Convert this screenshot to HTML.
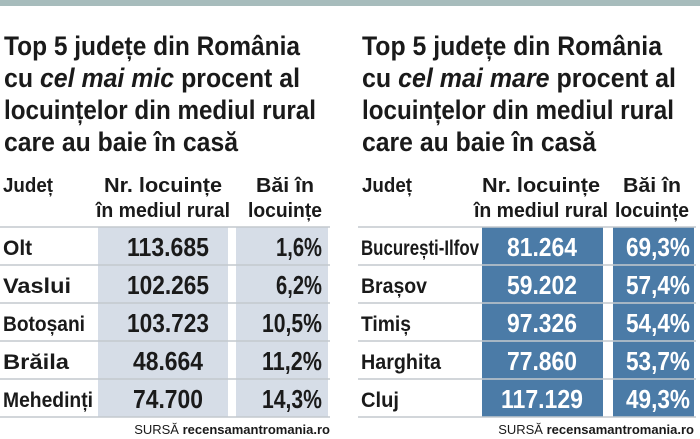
<!DOCTYPE html>
<html><head><meta charset="utf-8"><style>
html,body{margin:0;padding:0;background:#fff}
svg{display:block}
text{font-family:"Liberation Sans",sans-serif;font-weight:bold;fill:#1a1a1a}
</style></head><body>
<svg width="700" height="439" viewBox="0 0 700 439">
<rect x="0" y="0" width="700" height="6" fill="#a7bcbc"/>
<g font-size="27">
<text x="4" y="55" textLength="296" lengthAdjust="spacingAndGlyphs">Top 5 județe din România</text>
<text x="4" y="87" textLength="296" lengthAdjust="spacingAndGlyphs">cu <tspan font-style="italic">cel mai mic</tspan> procent al</text>
<text x="4" y="119" textLength="312" lengthAdjust="spacingAndGlyphs">locuințelor din mediul rural</text>
<text x="4" y="151" textLength="234" lengthAdjust="spacingAndGlyphs">care au baie în casă</text>
<text x="362" y="55" textLength="300" lengthAdjust="spacingAndGlyphs">Top 5 județe din România</text>
<text x="362" y="87" textLength="314" lengthAdjust="spacingAndGlyphs">cu <tspan font-style="italic">cel mai mare</tspan> procent al</text>
<text x="362" y="119" textLength="312" lengthAdjust="spacingAndGlyphs">locuințelor din mediul rural</text>
<text x="362" y="151" textLength="234" lengthAdjust="spacingAndGlyphs">care au baie în casă</text>
</g>
<g font-size="20">
<text x="3" y="192" textLength="50" lengthAdjust="spacingAndGlyphs">Județ</text>
<text x="163" y="192" text-anchor="middle" textLength="118" lengthAdjust="spacingAndGlyphs">Nr. locuințe</text>
<text x="163" y="217" text-anchor="middle" textLength="134" lengthAdjust="spacingAndGlyphs">în mediul rural</text>
<text x="285" y="192" text-anchor="middle" textLength="58" lengthAdjust="spacingAndGlyphs">Băi în</text>
<text x="285" y="217" text-anchor="middle" textLength="74" lengthAdjust="spacingAndGlyphs">locuințe</text>
<text x="362" y="192" textLength="50" lengthAdjust="spacingAndGlyphs">Județ</text>
<text x="541" y="192" text-anchor="middle" textLength="118" lengthAdjust="spacingAndGlyphs">Nr. locuințe</text>
<text x="541" y="217" text-anchor="middle" textLength="134" lengthAdjust="spacingAndGlyphs">în mediul rural</text>
<text x="652" y="192" text-anchor="middle" textLength="58" lengthAdjust="spacingAndGlyphs">Băi în</text>
<text x="652" y="217" text-anchor="middle" textLength="74" lengthAdjust="spacingAndGlyphs">locuințe</text>
</g>
<rect x="98" y="227" width="130" height="190" fill="#d6dde7"/>
<rect x="236" y="227" width="92" height="190" fill="#d6dde7"/>
<rect x="482" y="227" width="121" height="190" fill="#4b7ba7"/>
<rect x="613" y="227" width="81" height="190" fill="#4b7ba7"/>
<g stroke="#c4c9ce" stroke-width="1.5">
<line x1="0" y1="227" x2="330" y2="227"/><line x1="0" y1="265" x2="330" y2="265"/><line x1="0" y1="303" x2="330" y2="303"/><line x1="0" y1="341" x2="330" y2="341"/><line x1="0" y1="379" x2="330" y2="379"/><line x1="0" y1="417" x2="330" y2="417"/>
<line x1="358" y1="227" x2="696" y2="227"/><line x1="358" y1="265" x2="696" y2="265"/><line x1="358" y1="303" x2="696" y2="303"/><line x1="358" y1="341" x2="696" y2="341"/><line x1="358" y1="379" x2="696" y2="379"/><line x1="358" y1="417" x2="696" y2="417"/>
</g>
<g font-size="21">
<text x="3" y="255">Olt</text><text x="3" y="293" textLength="68" lengthAdjust="spacingAndGlyphs">Vaslui</text><text x="3" y="331" textLength="82" lengthAdjust="spacingAndGlyphs">Botoșani</text><text x="3" y="369" textLength="66" lengthAdjust="spacingAndGlyphs">Brăila</text><text x="3" y="407" textLength="90" lengthAdjust="spacingAndGlyphs">Mehedinți</text>
<text x="361" y="255" textLength="118" lengthAdjust="spacingAndGlyphs">București-Ilfov</text><text x="361" y="293" textLength="66" lengthAdjust="spacingAndGlyphs">Brașov</text><text x="361" y="331" textLength="50" lengthAdjust="spacingAndGlyphs">Timiș</text><text x="361" y="369" textLength="80" lengthAdjust="spacingAndGlyphs">Harghita</text><text x="361" y="407" textLength="38" lengthAdjust="spacingAndGlyphs">Cluj</text>
</g>
<g font-size="26">
<text x="168" y="256" text-anchor="middle" textLength="82" lengthAdjust="spacingAndGlyphs">113.685</text><text x="168" y="294" text-anchor="middle" textLength="82" lengthAdjust="spacingAndGlyphs">102.265</text><text x="168" y="332" text-anchor="middle" textLength="82" lengthAdjust="spacingAndGlyphs">103.723</text><text x="168" y="370" text-anchor="middle" textLength="70" lengthAdjust="spacingAndGlyphs">48.664</text><text x="168" y="408" text-anchor="middle" textLength="70" lengthAdjust="spacingAndGlyphs">74.700</text>
<text x="322" y="256" text-anchor="end" textLength="46" lengthAdjust="spacingAndGlyphs">1,6%</text><text x="322" y="294" text-anchor="end" textLength="46" lengthAdjust="spacingAndGlyphs">6,2%</text><text x="322" y="332" text-anchor="end" textLength="60" lengthAdjust="spacingAndGlyphs">10,5%</text><text x="322" y="370" text-anchor="end" textLength="60" lengthAdjust="spacingAndGlyphs">11,2%</text><text x="322" y="408" text-anchor="end" textLength="60" lengthAdjust="spacingAndGlyphs">14,3%</text>
</g>
<g font-size="26">
<text x="542" y="256" text-anchor="middle" fill="#fff" style="fill:#fff" textLength="70" lengthAdjust="spacingAndGlyphs">81.264</text><text x="542" y="294" text-anchor="middle" style="fill:#fff" textLength="70" lengthAdjust="spacingAndGlyphs">59.202</text><text x="542" y="332" text-anchor="middle" style="fill:#fff" textLength="70" lengthAdjust="spacingAndGlyphs">97.326</text><text x="542" y="370" text-anchor="middle" style="fill:#fff" textLength="70" lengthAdjust="spacingAndGlyphs">77.860</text><text x="542" y="408" text-anchor="middle" style="fill:#fff" textLength="82" lengthAdjust="spacingAndGlyphs">117.129</text>
<text x="690" y="256" text-anchor="end" style="fill:#fff" textLength="64" lengthAdjust="spacingAndGlyphs">69,3%</text><text x="690" y="294" text-anchor="end" style="fill:#fff" textLength="64" lengthAdjust="spacingAndGlyphs">57,4%</text><text x="690" y="332" text-anchor="end" style="fill:#fff" textLength="64" lengthAdjust="spacingAndGlyphs">54,4%</text><text x="690" y="370" text-anchor="end" style="fill:#fff" textLength="64" lengthAdjust="spacingAndGlyphs">53,7%</text><text x="690" y="408" text-anchor="end" style="fill:#fff" textLength="64" lengthAdjust="spacingAndGlyphs">49,3%</text>
</g>
<g font-size="13">
<text x="330" y="434" text-anchor="end"><tspan font-weight="normal">SURSĂ </tspan>recensamantromania.ro</text>
<text x="694" y="434" text-anchor="end"><tspan font-weight="normal">SURSĂ </tspan>recensamantromania.ro</text>
</g>
</svg>
</body></html>
